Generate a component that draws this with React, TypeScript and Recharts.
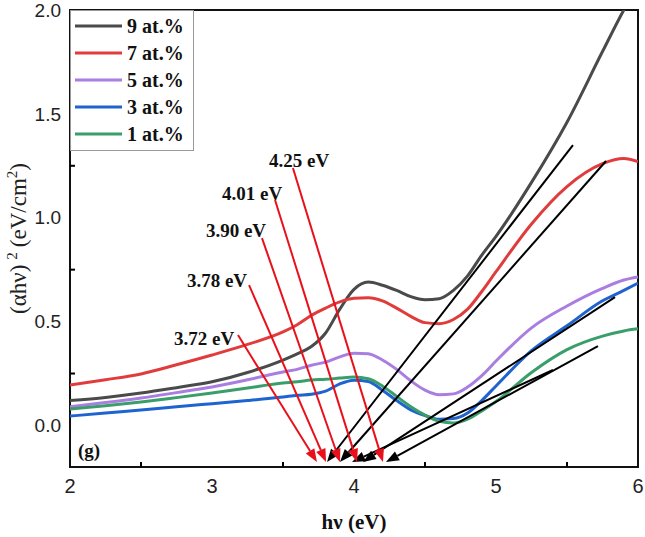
import React from 'react';
import { LineChart, Line, XAxis, YAxis, ReferenceLine, ReferenceArea, ReferenceDot, Legend, Label } from 'recharts';

// photon energy (eV)
const energy = [2.0, 2.25, 2.5, 2.75, 3.0, 3.25, 3.5, 3.6, 3.7, 3.8, 3.9, 4.0, 4.1, 4.2, 4.3, 4.4, 4.5, 4.6, 4.7, 4.8, 4.9, 5.0, 5.25, 5.5, 5.75, 5.9, 6.0];

// (alpha h nu)^2 for each doping level
const at9 = [0.12, 0.135, 0.156, 0.182, 0.21, 0.255, 0.315, 0.345, 0.38, 0.445, 0.56, 0.655, 0.69, 0.675, 0.65, 0.62, 0.605, 0.61, 0.65, 0.72, 0.82, 0.91, 1.17, 1.46, 1.8, 2.0, 2.12];
const at7 = [0.195, 0.22, 0.248, 0.292, 0.339, 0.39, 0.45, 0.485, 0.53, 0.565, 0.595, 0.612, 0.615, 0.6, 0.565, 0.525, 0.495, 0.49, 0.51, 0.56, 0.645, 0.74, 0.97, 1.15, 1.26, 1.285, 1.27];
const at5 = [0.09, 0.11, 0.132, 0.158, 0.185, 0.22, 0.257, 0.27, 0.29, 0.305, 0.33, 0.348, 0.345, 0.315, 0.27, 0.215, 0.17, 0.148, 0.152, 0.185, 0.24, 0.31, 0.47, 0.575, 0.66, 0.7, 0.715];
const at3 = [0.045, 0.06, 0.074, 0.09, 0.105, 0.12, 0.137, 0.145, 0.15, 0.165, 0.2, 0.218, 0.212, 0.17, 0.12, 0.075, 0.048, 0.03, 0.033, 0.06, 0.12, 0.19, 0.36, 0.48, 0.6, 0.65, 0.685];
const at1 = [0.079, 0.095, 0.113, 0.134, 0.156, 0.18, 0.204, 0.21, 0.219, 0.222, 0.228, 0.233, 0.225, 0.19, 0.14, 0.09, 0.05, 0.02, 0.012, 0.03, 0.07, 0.115, 0.255, 0.365, 0.43, 0.455, 0.465];

const series = [
  { key: 'at9', name: '9 at.%', color: '#4a4a4a', values: at9 },
  { key: 'at7', name: '7 at.%', color: '#e03c3c', values: at7 },
  { key: 'at5', name: '5 at.%', color: '#a97ee0', values: at5 },
  { key: 'at3', name: '3 at.%', color: '#1f63d0', values: at3 },
  { key: 'at1', name: '1 at.%', color: '#3a9e6a', values: at1 },
];

const xTicks = [2, 2.5, 3, 3.5, 4, 4.5, 5, 5.5, 6];
const yTicks = [0, 0.25, 0.5, 0.75, 1.0, 1.25, 1.5, 1.75, 2.0];

// red arrows: label text, label position, arrow start, arrow tip
const gapLabels = ['3.72 eV', '3.78 eV', '3.90 eV', '4.01 eV', '4.25 eV'];
const gapLabelPos = [[2.944, 0.421], [3.035, 0.7], [3.169, 0.941], [3.282, 1.119], [3.613, 1.278]];
const gapArrowFrom = [[3.183, 0.435], [3.261, 0.676], [3.352, 0.902], [3.444, 1.085], [3.57, 1.239]];
const gapArrowTo = [[3.739, -0.176], [3.803, -0.176], [3.901, -0.176], [4.021, -0.176], [4.204, -0.176]];

// black tangent lines (extrapolation to the axis)
const fitFrom = [[5.542, 1.35], [5.775, 1.273], [5.401, 0.267], [5.838, 0.618], [5.718, 0.382]];
const fitTo = [[3.81, -0.176], [3.901, -0.176], [3.986, -0.176], [4.063, -0.176], [4.225, -0.176]];

const data = energy.map((x, i) => {
  const row: any = { x };
  series.forEach(s => { row[s.key] = s.values[i]; });
  return row;
});

const serif = '"Liberation Serif", "Times New Roman", serif';
const sans = '"Liberation Sans", Arial, sans-serif';

const arrowShape = (color: string) => (p: any) => {
  const { x1, y1, x2, y2 } = p;
  const ang = Math.atan2(y2 - y1, x2 - x1);
  const len = 13;
  const half = 5;
  const bx = x2 - len * Math.cos(ang);
  const by = y2 - len * Math.sin(ang);
  const pts = `${x2},${y2} ${bx + half * Math.sin(ang)},${by - half * Math.cos(ang)} ${bx - half * Math.sin(ang)},${by + half * Math.cos(ang)}`;
  return (
    <g>
      <line x1={x1} y1={y1} x2={bx} y2={by} stroke={color} strokeWidth={2} />
      <polygon points={pts} fill={color} />
    </g>
  );
};

const XTick = (p: any) => {
  const { x, y, payload } = p;
  const v = payload.value;
  const major = Number.isInteger(v);
  return (
    <g>
      {!major && <line x1={x} y1={y} x2={x} y2={y - 5} stroke="#000" strokeWidth={2} />}
      {major && (
        <text x={x} y={y + 26} textAnchor="middle" fontFamily={sans} fontSize={20} fill="#222">
          {v}
        </text>
      )}
    </g>
  );
};

const YTick = (p: any) => {
  const { x, y, payload } = p;
  const v = payload.value;
  const major = Math.abs(v * 2 - Math.round(v * 2)) < 1e-6;
  return (
    <g>
      {!major && <line x1={x} y1={y} x2={x + 5} y2={y} stroke="#000" strokeWidth={2} />}
      {major && (
        <text x={x - 9} y={y} dy="0.35em" textAnchor="end" fontFamily={sans} fontSize={19} fill="#222">
          {v.toFixed(1)}
        </text>
      )}
    </g>
  );
};

const textDot = (text: string, size: number) => (p: any) => (
  <text x={p.cx} y={p.cy} dy="0.35em" textAnchor="middle" fontFamily={serif} fontWeight="bold" fontSize={size} fill="#111">
    {text}
  </text>
);

const renderLegend = () => (
  <svg width={124} height={141} style={{ display: 'block' }}>
    <rect x={0.5} y={0.5} width={123} height={140} fill="#fff" stroke="#999" strokeWidth={1} />
    {series.map((s, i) => (
      <g key={s.key}>
        <line x1={5} x2={52} y1={16 + i * 27} y2={16 + i * 27} stroke={s.color} strokeWidth={3} />
        <text x={57} y={16 + i * 27} dy="0.35em" fontFamily={serif} fontWeight="bold" fontSize={20} fill="#111">
          {s.name}
        </text>
      </g>
    ))}
  </svg>
);

const YLabel = (p: any) => {
  const vb = p.viewBox || { x: 0, y: 10, height: 457 };
  const cx = 26;
  const cy = vb.y + vb.height / 2;
  return (
    <text x={cx} y={cy} textAnchor="middle" transform={`rotate(-90, ${cx}, ${cy})`} fontFamily={serif} fontSize={23} fill="#222">
      (αhν)
      <tspan dx={5} dy={-9} fontSize={15}>2</tspan>
      <tspan dx={5} dy={9}>(eV/cm</tspan>
      <tspan dy={-9} fontSize={15}>2</tspan>
      <tspan dy={9}>)</tspan>
    </text>
  );
};

const XLabel = (p: any) => {
  const vb = p.viewBox || { x: 70, width: 568 };
  return (
    <text x={vb.x + vb.width / 2} y={529} textAnchor="middle" fontFamily={serif} fontWeight="bold" fontSize={21} fill="#111">
      hν (eV)
    </text>
  );
};

export default function App() {
  return (
    <div style={{ position: 'absolute', left: 0, top: 0, background: '#fff' }}>
      <LineChart width={645} height={537} data={data} margin={{ top: 10, right: 7, bottom: 0, left: 0 }}>
        <XAxis
          dataKey="x"
          type="number"
          domain={[2, 6]}
          ticks={xTicks}
          allowDataOverflow
          axisLine={false}
          tickLine={false}
          tickSize={0}
          tickMargin={0}
          height={70}
          tick={<XTick />}
          interval={0}
        >
          <Label content={<XLabel />} />
        </XAxis>
        <YAxis
          type="number"
          domain={[-0.2, 2.0]}
          ticks={yTicks}
          allowDataOverflow
          axisLine={false}
          tickLine={false}
          tickSize={0}
          tickMargin={0}
          width={70}
          tick={<YTick />}
          interval={0}
        >
          <Label content={<YLabel />} />
        </YAxis>
        <ReferenceArea x1={2} x2={6} y1={-0.2} y2={2.0} fill="none" stroke="#111" strokeWidth={2} fillOpacity={0} />
        {series.map(s => (
          <Line
            key={s.key}
            dataKey={s.key}
            name={s.name}
            type="monotone"
            stroke={s.color}
            strokeWidth={3}
            dot={false}
            isAnimationActive={false}
          />
        ))}
        {fitFrom.map((f, i) => (
          <ReferenceLine
            key={'fit' + i}
            segment={[{ x: f[0], y: f[1] }, { x: fitTo[i][0], y: fitTo[i][1] }]}
            stroke="#000"
            shape={arrowShape('#000')}
          />
        ))}
        {gapArrowFrom.map((f, i) => (
          <ReferenceLine
            key={'gap' + i}
            segment={[{ x: f[0], y: f[1] }, { x: gapArrowTo[i][0], y: gapArrowTo[i][1] }]}
            stroke="#e8101a"
            shape={arrowShape('#e8101a')}
          />
        ))}
        {gapLabels.map((t, i) => (
          <ReferenceDot key={'lbl' + i} x={gapLabelPos[i][0]} y={gapLabelPos[i][1]} r={0} shape={textDot(t, 19)} />
        ))}
        <ReferenceDot x={2.134} y={-0.118} r={0} shape={textDot('(g)', 19)} />
        <Legend
          layout="horizontal"
          verticalAlign="middle"
          align="center"
          content={renderLegend}
          wrapperStyle={{ left: 70, top: 10, width: 124, height: 141 }}
        />
      </LineChart>
    </div>
  );
}
